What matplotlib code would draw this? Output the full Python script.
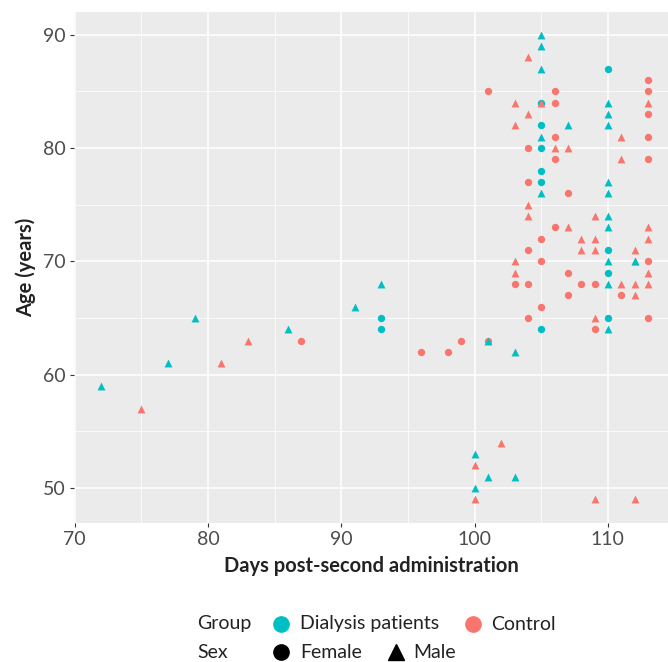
import matplotlib.pyplot as plt
from matplotlib.ticker import MultipleLocator

plt.rcParams["font.family"] = ["Lato", "DejaVu Sans"]

# Dialysis patients, female (circles)
dial_f_days = [93, 93, 110, 105, 105, 105, 105, 105, 110, 110, 110, 105]
dial_f_age = [65, 64, 87, 84, 82, 80, 78, 77, 71, 69, 65, 64]

# Dialysis patients, male (triangles)
dial_m_days = [72, 77, 79, 86, 91, 93, 101, 103, 100, 101, 103, 100,
               105, 105, 105, 110, 110, 107, 110, 105, 110, 105, 110,
               110, 110, 110, 112, 110, 110]
dial_m_age = [59, 61, 65, 64, 66, 68, 63, 62, 53, 51, 51, 50,
              90, 89, 87, 84, 83, 82, 82, 81, 77, 76, 76,
              74, 73, 70, 70, 68, 64]

# Control, female (circles)
ctrl_f_days = [87, 96, 98, 99, 101, 103, 101, 113, 106, 113, 106, 113,
               106, 113, 104, 106, 113, 104, 107, 106, 105, 104, 105,
               113, 107, 104, 108, 109, 107, 111, 105, 104, 113, 109]
ctrl_f_age = [63, 62, 62, 63, 63, 68, 85, 86, 85, 85, 84, 83,
              81, 81, 80, 79, 79, 77, 76, 73, 72, 71, 70,
              70, 69, 68, 68, 68, 67, 67, 66, 65, 65, 64]

# Control, male (triangles)
ctrl_m_days = [75, 81, 83, 102, 100, 100, 109, 112, 103, 103, 104, 105,
               113, 104, 111, 106, 107, 111, 104, 104, 109, 107, 113,
               108, 109, 113, 108, 109, 112, 103, 112, 103, 113, 111,
               112, 113, 112, 109]
ctrl_m_age = [57, 61, 63, 54, 52, 49, 49, 49, 84, 82, 88, 84,
              84, 83, 81, 80, 80, 79, 75, 74, 74, 73, 73,
              72, 72, 72, 71, 71, 71, 70, 70, 69, 69, 68,
              68, 68, 67, 65]

CYAN = "#00BFC4"
SALMON = "#F8766D"
TXT = "#4D4D4D"
DARK = "#222222"
FS = 14

W, H = 668, 662
fig = plt.figure(figsize=(W / 100, H / 100), dpi=100)

# panel: left edge at 74px, bottom at 522.6px, top at 11.6px, runs off the right edge
ax = fig.add_axes([74 / W, (H - 522.6) / H, (W - 74) / W, 511 / H])
ax.set_facecolor("#EBEBEB")
ax.set_xlim(69.95, 69.95 + (W - 74) / 13.33)
ax.set_ylim(46.95, 92.05)

ax.xaxis.set_major_locator(MultipleLocator(10))
ax.xaxis.set_minor_locator(MultipleLocator(5))
ax.yaxis.set_major_locator(MultipleLocator(10))
ax.yaxis.set_minor_locator(MultipleLocator(5))
ax.grid(which="major", color="white", lw=1.1)
ax.grid(which="minor", color="white", lw=0.55)
ax.set_axisbelow(True)
for s in ax.spines.values():
    s.set_visible(False)
ax.tick_params(which="major", length=3, width=0.8, color="#333333",
               labelsize=FS, labelcolor=TXT, pad=3)
ax.tick_params(which="minor", length=0)

ms = 28
ax.scatter(dial_f_days, dial_f_age, s=ms, marker="o", color=CYAN, lw=0, zorder=3)
ax.scatter(ctrl_f_days, ctrl_f_age, s=ms, marker="o", color=SALMON, lw=0, zorder=3)
ax.scatter(ctrl_m_days, ctrl_m_age, s=ms * 1.15, marker="^", color=SALMON, lw=0, zorder=3)
ax.scatter(dial_m_days, dial_m_age, s=ms * 1.15, marker="^", color=CYAN, lw=0, zorder=4)

ax.set_xlabel("Days post-second administration", fontsize=FS + 0.5,
              fontweight="bold", color=DARK, labelpad=6)
ax.set_ylabel("Age (years)", fontsize=FS + 0.5, fontweight="bold",
              color=DARK, labelpad=5)

# legend drawn in figure pixel coordinates
lg = fig.add_axes([0, 0, 1, 1], facecolor="none")
lg.set_xlim(0, W)
lg.set_ylim(H, 0)
lg.axis("off")
row1, row2 = 624, 652
lg.text(197, row1, "Group", fontsize=FS, color=DARK, va="center")
lg.plot(281, row1, "o", ms=11, color=CYAN)
lg.text(300, row1, "Dialysis patients", fontsize=FS, color=DARK, va="center")
lg.plot(473, row1, "o", ms=11, color=SALMON)
lg.text(491, row1, "Control", fontsize=FS, color=DARK, va="center")
lg.text(197, row2, "Sex", fontsize=FS, color=DARK, va="center")
lg.plot(281, row2, "o", ms=11, color="black")
lg.text(300, row2, "Female", fontsize=FS, color=DARK, va="center")
lg.plot(396, row2, "^", ms=11, color="black")
lg.text(413, row2, "Male", fontsize=FS, color=DARK, va="center")

fig.savefig("out.png", dpi=100)
